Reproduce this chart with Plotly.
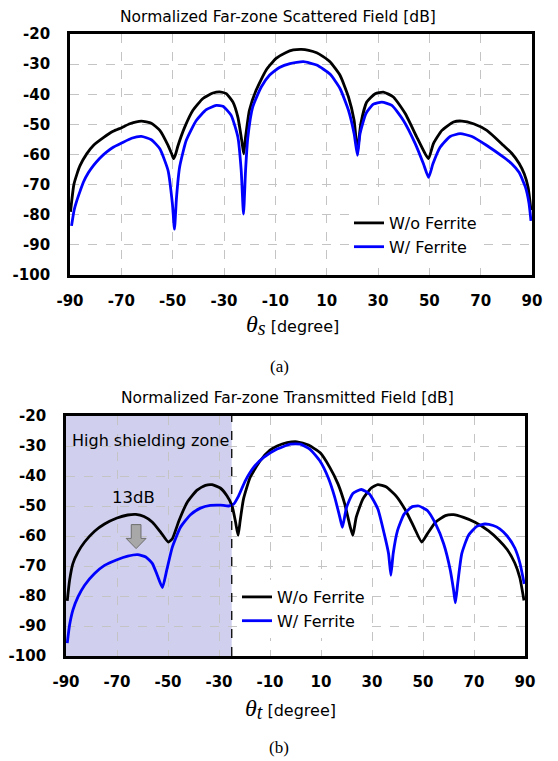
import plotly.graph_objects as go

# ---------------- data ----------------
x_ticks = [-90, -70, -50, -30, -10, 10, 30, 50, 70, 90]
x_tick_labels = ["-90", "-70", "-50", "-30", "-10", "10", "30", "50", "70", "90"]
y_ticks = [-100, -90, -80, -70, -60, -50, -40, -30, -20]
y_tick_labels = ["-100", "-90", "-80", "-70", "-60", "-50", "-40", "-30", "-20"]

# (a) scattered field
sc_wo_theta = [-89.8, -88.5, -87.3, -86.1, -83.5, -80.9, -77.0, -73.2, -69.9, -66.7, -62.2, -58.3, -55.0,
               -51.8, -50.3, -49.6, -48.9, -47.9, -45.3, -42.1, -38.2, -34.3, -31.7, -29.1, -26.5, -24.6,
               -22.9, -22.3, -21.6, -20.1, -17.5, -13.6, -9.7, -6.0, -3.0, 0.2, 3.0, 6.1, 8.5, 11.3, 15.2,
               18.5, 20.7, 22.0, 23.3, 25.6, 28.9, 32.1, 36.0, 40.6, 45.1, 48.4, 49.7, 51.6, 54.9, 59.4,
               62.7, 67.2, 72.4, 78.9, 82.0, 85.0, 87.0, 88.5, 89.6]
sc_wo_db = [-79.0, -70.0, -66.5, -63.7, -59.8, -57.0, -54.4, -52.3, -51.1, -49.8, -48.9, -49.6, -52.0,
            -57.0, -60.0, -61.4, -60.0, -57.0, -50.9, -45.3, -41.4, -39.6, -39.2, -39.8, -42.6, -47.6,
            -56.4, -59.8, -54.2, -45.3, -38.7, -32.0, -28.1, -26.2, -25.3, -25.1, -25.4, -26.2, -27.4,
            -29.2, -33.7, -40.9, -48.7, -58.7, -49.8, -42.6, -39.8, -39.3, -40.9, -46.4, -54.2, -59.8,
            -61.4, -56.4, -52.0, -49.2, -48.9, -49.8, -52.0, -57.0, -59.5, -63.0, -66.5, -71.0, -78.5]

sc_w_theta = [-89.4, -88.4, -87.4, -86.0, -84.8, -82.8, -80.9, -78.5, -75.8, -73.0, -69.9, -66.0, -62.2,
              -58.3, -55.0, -51.8, -50.1, -49.3, -48.5, -47.3, -44.7, -40.8, -36.9, -33.0, -30.4, -27.2,
              -24.6, -23.3, -22.4, -21.6, -20.7, -18.8, -15.5, -12.3, -8.4, -4.3, 0.9, 6.1, 11.3, 15.2,
              18.5, 20.7, 22.0, 23.0, 25.3, 28.2, 31.5, 35.4, 39.9, 44.5, 47.7, 49.7, 51.4, 54.2, 58.1,
              62.0, 66.6, 72.4, 78.9, 82.0, 85.0, 87.5, 88.8, 89.6]
sc_w_db = [-83.7, -78.5, -75.5, -72.0, -69.2, -66.0, -63.7, -61.3, -59.2, -57.5, -56.2, -54.6, -54.0,
           -55.1, -58.1, -65.3, -76.4, -84.8, -74.2, -64.2, -55.3, -48.7, -45.1, -43.7, -44.0, -47.0,
           -54.2, -65.3, -79.8, -65.3, -54.2, -44.2, -37.6, -33.7, -31.1, -29.8, -29.2, -30.3, -33.3,
           -38.1, -45.3, -53.1, -60.3, -53.1, -46.4, -43.3, -42.6, -43.7, -48.7, -56.4, -63.1, -67.6,
           -63.1, -57.6, -54.0, -53.1, -54.0, -57.0, -60.9, -63.0, -66.0, -71.0, -76.0, -82.0]

# (b) transmitted field
tr_wo_theta = [-89.5, -88.6, -87.3, -85.3, -82.7, -78.8, -74.9, -70.0, -65.8, -62.6, -59.4, -56.1, -52.9,
               -49.9, -48.3, -45.7, -42.5, -38.6, -35.3, -32.7, -29.5, -26.9, -24.9, -23.6, -22.5, -21.7,
               -20.4, -17.8, -13.9, -10.0, -7.2, -3.3, 0.6, 5.1, 9.6, 13.5, 16.7, 19.3, 21.5, 22.5, 23.8,
               26.4, 29.7, 32.3, 35.5, 39.4, 43.2, 46.5, 49.5, 51.7, 54.9, 58.8, 62.0, 65.9, 70.4, 75.6,
               79.7, 83.0, 86.0, 88.0, 89.6]
tr_wo_db = [-81.6, -74.8, -69.2, -65.4, -62.0, -58.4, -56.0, -54.0, -53.0, -52.8, -53.5, -55.4, -58.7,
            -62.0, -60.9, -54.9, -48.8, -44.7, -43.1, -42.9, -44.0, -46.6, -49.9, -54.9, -59.8, -54.9,
            -47.7, -40.5, -35.0, -31.4, -30.0, -28.9, -28.6, -29.7, -32.2, -37.2, -42.7, -49.3, -57.1,
            -59.8, -53.8, -47.7, -44.0, -42.9, -43.6, -46.6, -51.5, -57.1, -62.0, -59.3, -55.4, -53.2,
            -52.9, -53.8, -55.4, -58.2, -61.3, -64.5, -69.0, -74.0, -81.5]

tr_w_theta = [-89.5, -88.6, -87.3, -85.3, -82.7, -78.8, -74.9, -70.0, -65.8, -61.9, -58.7, -56.1, -54.2,
              -52.2, -50.5, -48.3, -45.1, -41.2, -37.3, -33.4, -29.5, -26.2, -24.3, -22.3, -19.7, -16.5,
              -12.6, -7.4, -2.0, 1.9, 5.7, 9.6, 12.8, 15.4, 17.4, 18.4, 20.0, 22.5, 25.8, 29.0, 32.3,
              34.8, 36.5, 37.4, 38.3, 40.0, 42.6, 45.8, 48.4, 51.7, 54.9, 58.1, 60.7, 62.0, 62.7, 63.6,
              65.2, 67.8, 71.1, 74.3, 77.5, 80.1, 83.0, 86.0, 88.0, 89.7]
tr_w_db = [-95.7, -89.7, -84.7, -80.3, -76.4, -72.5, -69.8, -67.9, -66.7, -66.2, -67.0, -69.2, -73.1,
           -77.2, -71.4, -63.7, -57.1, -52.9, -50.7, -49.8, -49.7, -50.0, -49.4, -46.6, -41.6, -37.2,
           -33.9, -31.1, -29.4, -29.4, -31.1, -35.0, -40.5, -47.1, -53.8, -57.1, -50.5, -45.8, -44.5,
           -46.0, -51.0, -59.3, -65.9, -73.1, -65.9, -58.2, -52.7, -50.2, -50.0, -51.5, -55.9, -62.6,
           -71.4, -78.1, -82.3, -75.9, -65.9, -59.8, -56.8, -56.0, -56.5, -57.6, -60.0, -64.0, -69.0,
           -76.0]

zone_edge = -25  # end of high shielding zone [deg]
series_names = ["W/o Ferrite", "W/ Ferrite"]

# ---------------- layout helpers ----------------
# the page body adds an 8 px margin, so the figure is 8 px smaller and all
# target pixel positions (window coordinates) are shifted by that offset
OFF = 8
W, H = 558 - OFF, 761 - OFF
def px_x(p):
    return (p - OFF) / W
def px_y(p):
    return 1 - (p - OFF) / H

top_dom_x = [px_x(70), px_x(532)]
top_dom_y = [px_y(275), px_y(34)]
bot_dom_x = [px_x(66), px_x(525)]
bot_dom_y = [px_y(656), px_y(416)]

SANS = "DejaVu Sans"
SERIF = "Liberation Serif"
BLACK = "#000000"
BLUE = "#0000ff"

fig = go.Figure()
line_w = 2.8
fig.add_trace(go.Scatter(x=sc_wo_theta, y=sc_wo_db, mode="lines", name=series_names[0],
                         line=dict(color=BLACK, width=line_w, shape="spline", smoothing=0.5),
                         xaxis="x", yaxis="y", legend="legend"))
fig.add_trace(go.Scatter(x=sc_w_theta, y=sc_w_db, mode="lines", name=series_names[1],
                         line=dict(color=BLUE, width=line_w, shape="spline", smoothing=0.5),
                         xaxis="x", yaxis="y", legend="legend"))
fig.add_trace(go.Scatter(x=tr_wo_theta, y=tr_wo_db, mode="lines", name=series_names[0],
                         line=dict(color=BLACK, width=line_w, shape="spline", smoothing=0.5),
                         xaxis="x2", yaxis="y2", legend="legend2"))
fig.add_trace(go.Scatter(x=tr_w_theta, y=tr_w_db, mode="lines", name=series_names[1],
                         line=dict(color=BLUE, width=line_w, shape="spline", smoothing=0.5),
                         xaxis="x2", yaxis="y2", legend="legend2"))

tick_font = dict(family=SANS, size=15, color=BLACK, weight="bold")
ax_common = dict(showline=True, linewidth=2.8, linecolor=BLACK, mirror=True,
                 showgrid=True, gridcolor="#c4c4c4", gridwidth=1, griddash="dash",
                 zeroline=False, ticks="", tickfont=tick_font, fixedrange=True,
                 automargin=False)

fig.update_layout(
    width=W, height=H, margin=dict(l=0, r=0, t=0, b=0, autoexpand=False),
    paper_bgcolor="white", plot_bgcolor="white",
    xaxis=dict(domain=top_dom_x, range=[-90, 90], tickvals=x_ticks, ticktext=x_tick_labels,
               anchor="y", ticklabelstandoff=10, **ax_common),
    yaxis=dict(domain=top_dom_y, range=[-100, -20], tickvals=y_ticks, ticktext=y_tick_labels,
               anchor="x", ticklabelstandoff=14, **ax_common),
    xaxis2=dict(domain=bot_dom_x, range=[-90, 90], tickvals=x_ticks, ticktext=x_tick_labels,
                anchor="y2", ticklabelstandoff=10, **ax_common),
    yaxis2=dict(domain=bot_dom_y, range=[-100, -20], tickvals=y_ticks, ticktext=y_tick_labels,
                anchor="x2", ticklabelstandoff=14, **ax_common),
    legend=dict(x=px_x(349), y=px_y(206), xanchor="left", yanchor="top",
                bgcolor="white", borderwidth=0, font=dict(family=SANS, size=16, color=BLACK),
                tracegroupgap=0, itemwidth=30),
    legend2=dict(x=px_x(237), y=px_y(580), xanchor="left", yanchor="top",
                 bgcolor="white", borderwidth=0, font=dict(family=SANS, size=16, color=BLACK),
                 tracegroupgap=0, itemwidth=30),
    showlegend=True,
)

# shaded high-shielding zone and its dashed border
fig.add_shape(type="rect", xref="x2", yref="y2", x0=-90, x1=zone_edge, y0=-100, y1=-20,
              fillcolor="#d0d0ee", line=dict(width=0), layer="below")
fig.add_shape(type="line", xref="x2", yref="y2", x0=zone_edge, x1=zone_edge, y0=-100, y1=-20,
              line=dict(color=BLACK, width=1.3, dash="dash"), layer="above")

# gray block arrow (13 dB drop)
ax_c, ay_top, ay_neck, ay_tip = -62.5, -56.2, -60.8, -64.2
shaft, head = 1.9, 3.9
arrow_path = (f"M {ax_c-shaft},{ay_top} L {ax_c+shaft},{ay_top} L {ax_c+shaft},{ay_neck} "
              f"L {ax_c+head},{ay_neck} L {ax_c},{ay_tip} L {ax_c-head},{ay_neck} "
              f"L {ax_c-shaft},{ay_neck} Z")
fig.add_shape(type="path", xref="x2", yref="y2", path=arrow_path,
              fillcolor="#a8a8a8", line=dict(color="#6e6e6e", width=1))

ann = []
ann.append(dict(text="Normalized Far-zone Scattered Field [dB]", x=px_x(278), y=px_y(17),
                xref="paper", yref="paper", showarrow=False, xanchor="center", yanchor="middle",
                font=dict(family=SANS, size=15.5, color=BLACK)))
ann.append(dict(text="Normalized Far-zone Transmitted Field [dB]", x=px_x(288), y=px_y(398),
                xref="paper", yref="paper", showarrow=False, xanchor="center", yanchor="middle",
                font=dict(family=SANS, size=15.5, color=BLACK)))
theta_lbl = ('<span style="font-family:Liberation Serif;font-size:24px"><i>θ</i></span>'
             '<sub><span style="font-family:Liberation Serif;font-size:20px"><i>{}</i></span></sub>'
             ' [degree]')
ann.append(dict(text=theta_lbl.format("s"), x=px_x(292), y=px_y(325), xref="paper", yref="paper",
                showarrow=False, xanchor="center", yanchor="middle",
                font=dict(family=SANS, size=16, color=BLACK)))
ann.append(dict(text=theta_lbl.format("t"), x=px_x(290), y=px_y(709), xref="paper", yref="paper",
                showarrow=False, xanchor="center", yanchor="middle",
                font=dict(family=SANS, size=16, color=BLACK)))
ann.append(dict(text="(a)", x=px_x(279), y=px_y(366), xref="paper", yref="paper",
                showarrow=False, xanchor="center", yanchor="middle",
                font=dict(family=SERIF, size=17, color=BLACK)))
ann.append(dict(text="(b)", x=px_x(279), y=px_y(747), xref="paper", yref="paper",
                showarrow=False, xanchor="center", yanchor="middle",
                font=dict(family=SERIF, size=17, color=BLACK)))
ann.append(dict(text="High shielding zone", x=-57, y=-28.2, xref="x2", yref="y2",
                showarrow=False, xanchor="center", yanchor="middle",
                font=dict(family=SANS, size=16, color=BLACK)))
ann.append(dict(text="13dB", x=-63.5, y=-47.3, xref="x2", yref="y2",
                showarrow=False, xanchor="center", yanchor="middle",
                font=dict(family=SANS, size=16.5, color=BLACK)))
fig.update_layout(annotations=ann)

fig.write_html("out.html")
